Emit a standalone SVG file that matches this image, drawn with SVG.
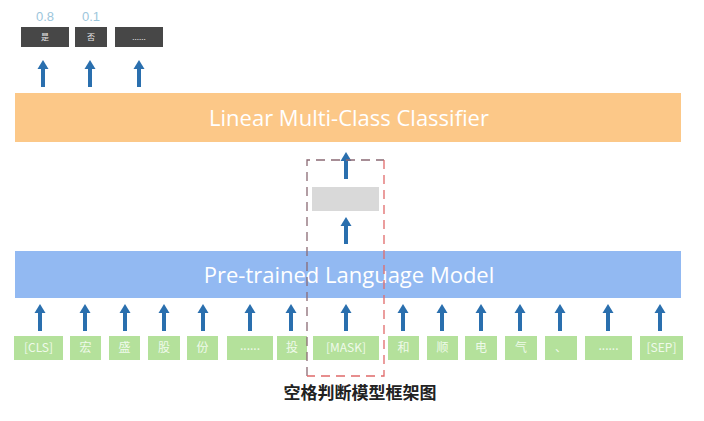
<svg xmlns="http://www.w3.org/2000/svg" width="704" height="421" viewBox="0 0 704 421">
<style>
.out{fill:#474747}
.outt{font-family:"Noto Sans CJK SC","Liberation Sans",sans-serif;font-size:8px;fill:#e8e8e8;text-anchor:middle}
.prob{font-family:"Liberation Sans",sans-serif;font-size:13px;fill:#9cc6dc;text-anchor:middle}
.bar{font-family:"Open Sans","Liberation Sans",sans-serif;font-size:22px;fill:#ffffff;text-anchor:middle}
.tok{fill:#b4e19b}
.tokt{font-family:"Noto Sans CJK SC","Liberation Sans",sans-serif;font-size:12px;fill:#effaea;text-anchor:middle}
.cap{font-family:"Noto Sans CJK SC",sans-serif;font-size:17px;font-weight:bold;fill:#222;text-anchor:middle}
</style>
<defs>
<g id="arr">
<rect x="-2" y="8" width="4" height="19" fill="#2a6fae"/>
<polygon points="0,0 5.5,9 -5.5,9" fill="#2a6fae"/>
</g>
</defs>
<rect width="704" height="421" fill="#ffffff"/>

<g id="outputs">
<text class="prob" x="45" y="21">0.8</text>
<text class="prob" x="91" y="21">0.1</text>
<g id="out1"><rect class="out" x="21" y="27" width="48" height="20"/><text class="outt" x="45" y="40">是</text></g>
<g id="out2"><rect class="out" x="75" y="27" width="32" height="20"/><text class="outt" x="91" y="40">否</text></g>
<g id="out3"><rect class="out" x="115" y="27" width="48" height="20"/><text class="outt" x="139" y="40">......</text></g>
</g>

<g id="classifier">
<rect x="15" y="93" width="666" height="49" fill="#fcc888"/>
<text class="bar" x="349" y="126">Linear Multi-Class Classifier</text>
</g>

<g id="hidden">
<rect x="312" y="187" width="67" height="24" fill="#d9d9d9"/>
</g>

<g id="plm">
<rect x="15" y="251" width="666" height="47" fill="#92b9f2"/>
<text class="bar" x="349" y="283">Pre-trained Language Model</text>
</g>

<g id="tokens">
<g id="t1"><rect class="tok" x="14" y="336" width="49" height="24"/><text class="tokt" x="38.5" y="352">[CLS]</text></g>
<g id="t2"><rect class="tok" x="70" y="336" width="31" height="24"/><text class="tokt" x="85.5" y="352">宏</text></g>
<g id="t3"><rect class="tok" x="109" y="336" width="31" height="24"/><text class="tokt" x="124.5" y="352">盛</text></g>
<g id="t4"><rect class="tok" x="148" y="336" width="32" height="24"/><text class="tokt" x="164" y="352">股</text></g>
<g id="t5"><rect class="tok" x="187" y="336" width="31" height="24"/><text class="tokt" x="202.5" y="352">份</text></g>
<g id="t6"><rect class="tok" x="227" y="336" width="46" height="24"/><text class="tokt" x="250" y="350">......</text></g>
<g id="t7"><rect class="tok" x="277" y="336" width="30" height="24"/><text class="tokt" x="292" y="352">投</text></g>
<g id="t8"><rect class="tok" x="313" y="336" width="66" height="24"/><text class="tokt" x="346" y="352">[MASK]</text></g>
<g id="t9"><rect class="tok" x="388" y="336" width="31" height="24"/><text class="tokt" x="403.5" y="352">和</text></g>
<g id="t10"><rect class="tok" x="427" y="336" width="31" height="24"/><text class="tokt" x="442.5" y="352">顺</text></g>
<g id="t11"><rect class="tok" x="465" y="336" width="32" height="24"/><text class="tokt" x="481" y="352">电</text></g>
<g id="t12"><rect class="tok" x="505" y="336" width="32" height="24"/><text class="tokt" x="521" y="352">气</text></g>
<g id="t13"><rect class="tok" x="545" y="336" width="32" height="24"/><text class="tokt" x="561" y="352">、</text></g>
<g id="t14"><rect class="tok" x="585" y="336" width="47" height="24"/><text class="tokt" x="608.5" y="350">......</text></g>
<g id="t15"><rect class="tok" x="640" y="336" width="43" height="24"/><text class="tokt" x="661.5" y="352">[SEP]</text></g>
</g>

<g id="connectors">
<use href="#arr" x="43" y="60"/>
<use href="#arr" x="90" y="60"/>
<use href="#arr" x="139" y="60"/>
<use href="#arr" x="346" y="152"/>
<use href="#arr" x="346" y="217"/>
<use href="#arr" x="40" y="304"/>
<use href="#arr" x="85" y="304"/>
<use href="#arr" x="125" y="304"/>
<use href="#arr" x="164" y="304"/>
<use href="#arr" x="203" y="304"/>
<use href="#arr" x="250" y="304"/>
<use href="#arr" x="291" y="304"/>
<use href="#arr" x="346" y="304"/>
<use href="#arr" x="403" y="304"/>
<use href="#arr" x="442" y="304"/>
<use href="#arr" x="481" y="304"/>
<use href="#arr" x="520" y="304"/>
<use href="#arr" x="560" y="304"/>
<use href="#arr" x="608" y="304"/>
<use href="#arr" x="660" y="304"/>
</g>

<g id="mask-frame" fill="none" stroke-width="1.3" stroke-dasharray="9,6">
<path d="M307,376 V160 H384" stroke="#8a6a74"/>
<path d="M384,160 V376 H307" stroke="#e06a6a"/>
</g>

<text class="cap" x="360" y="399">空格判断模型框架图</text>
</svg>
